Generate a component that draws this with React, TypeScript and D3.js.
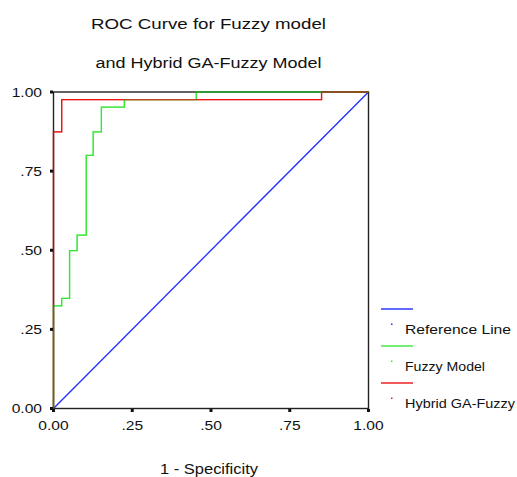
import { useMemo } from 'react';
import * as d3 from 'd3';

const WIDTH = 517;
const HEIGHT = 477;
const PLOT = { left: 53.5, right: 368.5, top: 92, bottom: 408.5 };
const FONT = 'Liberation Sans, Arial, sans-serif';
const STRETCH = 1.2; // source text is drawn horizontally stretched

const titleLines = ['ROC Curve for Fuzzy model', 'and Hybrid GA-Fuzzy Model'];
const xAxisTitle = '1 - Specificity';
const tickValues = [0, 0.25, 0.5, 0.75, 1];
const tickLabels = ['0.00', '.25', '.50', '.75', '1.00'];

// ROC points (1 - specificity, sensitivity)
const referenceFpr = [0, 1];
const referenceTpr = [0, 1];
const fuzzyFpr = [0, 0, 0.026, 0.051, 0.075, 0.104, 0.126, 0.152, 0.225, 0.453, 1];
const fuzzyTpr = [0, 0.324, 0.348, 0.499, 0.548, 0.8, 0.874, 0.952, 0.976, 1, 1];
const hybridFpr = [0, 0, 0.026, 0.851, 1];
const hybridTpr = [0, 0.874, 0.976, 1, 1];

const seriesNames = ['Reference Line', 'Fuzzy Model', 'Hybrid GA-Fuzzy'];
const seriesColors = ['#1f2cff', '#35e835', '#ea1414'];

// rendered widths of the stretched labels in the source picture
const titleWidths = [235, 226];
const legendWidths = [106, 80, 110];

function SText({ x, y, size, anchor = 'start', width = 0, stretch = STRETCH, children }) {
  if (width) {
    return (
      <text
        x={x}
        y={y}
        fontFamily={FONT}
        fontSize={size}
        textAnchor={anchor}
        textLength={width}
        lengthAdjust="spacingAndGlyphs"
        fill="#111"
      >
        {children}
      </text>
    );
  }
  return (
    <text
      transform={`translate(${x},${y}) scale(${stretch},1)`}
      fontFamily={FONT}
      fontSize={size}
      textAnchor={anchor}
      fill="#111"
    >
      {children}
    </text>
  );
}

export default function App() {
  const x = useMemo(() => d3.scaleLinear().domain([0, 1]).range([PLOT.left, PLOT.right]), []);
  const y = useMemo(() => d3.scaleLinear().domain([0, 1]).range([PLOT.bottom, PLOT.top]), []);

  const series = [
    { fpr: referenceFpr, tpr: referenceTpr, curve: d3.curveLinear },
    { fpr: fuzzyFpr, tpr: fuzzyTpr, curve: d3.curveStepAfter },
    { fpr: hybridFpr, tpr: hybridTpr, curve: d3.curveStepAfter },
  ];

  const paths = series.map((s) =>
    d3
      .line<number>()
      .x((d) => x(s.fpr[d]))
      .y((d) => y(s.tpr[d]))
      .curve(s.curve)(d3.range(s.fpr.length))
  );

  const legendY = d3.scaleLinear().domain([0, 1]).range([309, 346]);

  return (
    <svg
      width={WIDTH}
      height={HEIGHT}
      style={{ position: 'absolute', left: 0, top: 0, background: '#fff' }}
    >
      {titleLines.map((t, i) => (
        <SText key={t} x={208.5} y={29 + i * 39.3} size={15.5} anchor="middle" width={titleWidths[i]}>
          {t}
        </SText>
      ))}

      {paths.map((d, i) => (
        <path key={i} d={d} fill="none" stroke={seriesColors[i]} strokeWidth={1.3} />
      ))}

      {/* frame */}
      <rect
        x={PLOT.left}
        y={PLOT.top}
        width={PLOT.right - PLOT.left}
        height={PLOT.bottom - PLOT.top}
        fill="none"
        stroke="#222"
        strokeWidth={1.4}
      />
      {/* redraw the curves lying on the frame */}
      {paths.slice(1).map((d, i) => (
        <path key={`o${i}`} d={d} fill="none" stroke={seriesColors[i + 1]} strokeWidth={1.3} strokeOpacity={0.55} />
      ))}

      {tickValues.map((v, i) => (
        <g key={`y${v}`}>
          <rect x={PLOT.left - 3.5} y={y(v) - 1.5} width={3} height={3} fill="#111" />
          <SText x={42} y={y(v) + 4.5} size={13} anchor="end">
            {tickLabels[i]}
          </SText>
        </g>
      ))}
      {tickValues.map((v, i) => (
        <g key={`x${v}`}>
          <rect x={x(v) - 1.5} y={PLOT.bottom + 0.5} width={3} height={3} fill="#111" />
          <SText x={x(v)} y={430} size={13} anchor="middle">
            {tickLabels[i]}
          </SText>
        </g>
      ))}

      <SText x={209} y={474} size={14.5} anchor="middle" width={98}>
        {xAxisTitle}
      </SText>

      {seriesNames.map((name, i) => (
        <g key={name}>
          <line
            x1={381}
            x2={413}
            y1={legendY(i)}
            y2={legendY(i)}
            stroke={seriesColors[i]}
            strokeWidth={1.4}
          />
          <rect x={391} y={legendY(i) + 14.5} width={1.5} height={1.5} fill={seriesColors[i]} />
          <SText x={405} y={legendY(i) + 25} size={13} width={legendWidths[i]}>
            {name}
          </SText>
        </g>
      ))}
    </svg>
  );
}
